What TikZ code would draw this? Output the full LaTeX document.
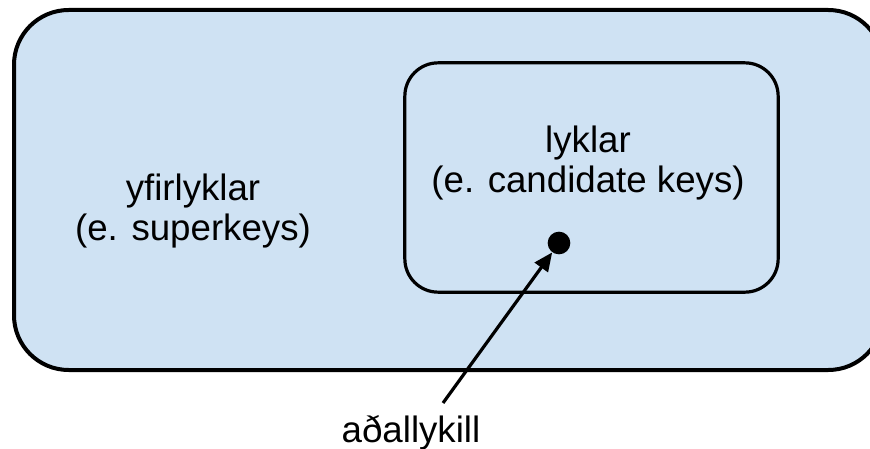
\documentclass[tikz,border=0pt]{standalone}
\usepackage{fontspec}
\setmainfont{Liberation Sans}
\usetikzlibrary{arrows.meta}
\definecolor{boxfill}{HTML}{CFE2F3}
\tikzset{
  setbox/.style={draw=black, fill=boxfill, rectangle, inner sep=0pt},
  lbl/.style={font=\fontsize{27.5}{30}\selectfont, align=center, inner sep=0pt},
  dotnode/.style={circle, fill=black, inner sep=0pt, minimum size=17pt},
  pointer/.style={-{Triangle[length=14pt,width=12pt]}, line width=2.4pt}
}
\begin{document}
\begin{tikzpicture}[x=0.75pt, y=-0.75pt]
\useasboundingbox (0,0) rectangle (870,449);
\clip (0,0) rectangle (870,449);
\node[setbox, line width=3pt, rounded corners=41pt, minimum width=651.75pt, minimum height=270pt] (outer) at (448.5,190) {};
\node[setbox, line width=2.4pt, rounded corners=25pt, minimum width=280pt, minimum height=172pt] (inner) at (591.5,177.5) {};
\node[lbl] (super) at (193,211) {yfirlyklar\\(e. superkeys)};
\node[lbl] (cand) at (588,163) {lyklar\\(e. candidate keys)};
\node[dotnode] (pk) at (559,243) {};
\node[lbl, anchor=base] (pklabel) at (411,442) {aðallykill};
\coordinate (start) at (443,403);
\draw[pointer] (start) -- (pk);
\end{tikzpicture}
\end{document}
